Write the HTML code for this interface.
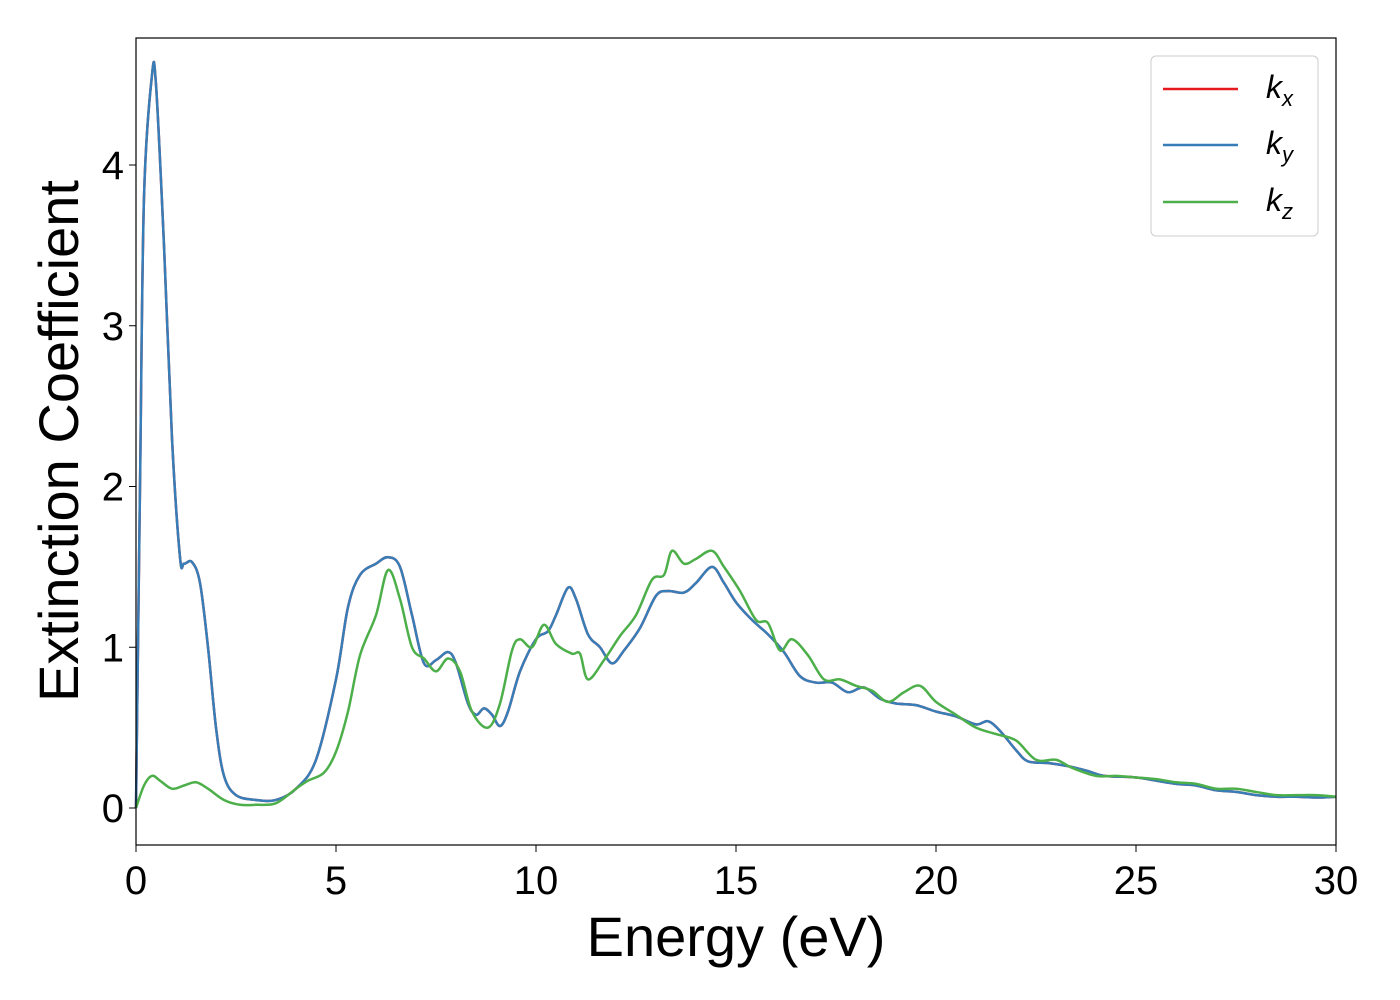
<!DOCTYPE html>
<html><head><meta charset="utf-8"><style>
html,body{margin:0;padding:0;background:#fff;}
svg{display:block;font-family:"Liberation Sans","DejaVu Sans",sans-serif;}
</style></head><body>
<svg id="chart" width="1400" height="1000">
<rect x="0" y="0" width="1400" height="1000" fill="#fff"/>
<g id="plot"></g>
<rect x="136" y="38" width="1200" height="807" fill="none" stroke="#000" stroke-width="1.2"/>
<g id="xticks"></g><g id="yticks"></g>
<text x="736" y="956" font-size="56" text-anchor="middle">Energy (eV)</text>
<text transform="translate(78,441) rotate(-90)" font-size="56" text-anchor="middle">Extinction Coefficient</text>
<g>
<rect x="1151" y="56" width="167" height="180" rx="5" fill="#fff" stroke="#ccc" stroke-width="1"/>
<line x1="1163" y1="89" x2="1238" y2="89" stroke="#e41a1c" stroke-width="2.5"/>
<text x="1266" y="98" font-size="32"><tspan font-style="italic">k</tspan><tspan font-size="22" font-style="italic" dy="8">x</tspan></text>
<line x1="1163" y1="145" x2="1238" y2="145" stroke="#377eb8" stroke-width="2.5"/>
<text x="1266" y="154" font-size="32"><tspan font-style="italic">k</tspan><tspan font-size="22" font-style="italic" dy="8">y</tspan></text>
<line x1="1163" y1="202" x2="1238" y2="202" stroke="#4daf4a" stroke-width="2.5"/>
<text x="1266" y="211" font-size="32"><tspan font-style="italic">k</tspan><tspan font-size="22" font-style="italic" dy="8">z</tspan></text>
</g>
</svg>
<script>
const xTicks=[0,5,10,15,20,25,30];
const yTicks=[0,1,2,3,4];
const energyXY=[0,0.1,0.2,0.4,0.5,0.7,0.9,1.1,1.2,1.4,1.6,1.8,2.0,2.2,2.5,3.0,3.5,4.0,4.5,5.0,5.3,5.6,6.0,6.3,6.6,6.9,7.2,7.5,7.8,8.0,8.3,8.5,8.7,8.9,9.1,9.3,9.6,10.0,10.3,10.5,10.8,11.0,11.3,11.6,11.9,12.2,12.6,13.0,13.3,13.7,14.0,14.4,14.7,15.0,15.4,15.8,16.2,16.6,17.0,17.4,17.8,18.2,18.6,19.0,19.5,20.0,20.5,21.0,21.3,21.6,22.0,22.3,22.8,23.3,23.8,24.2,25.0,25.5,26,26.5,27,27.5,28,28.5,29,29.5,30];
const kxValues=[0,2.0,3.8,4.56,4.5,3.5,2.3,1.56,1.52,1.53,1.4,1.0,0.5,0.2,0.08,0.05,0.05,0.12,0.3,0.8,1.25,1.45,1.52,1.56,1.5,1.2,0.9,0.92,0.97,0.9,0.65,0.58,0.62,0.58,0.51,0.6,0.85,1.05,1.1,1.2,1.37,1.3,1.08,1.0,0.9,0.98,1.12,1.32,1.35,1.34,1.4,1.5,1.4,1.28,1.17,1.08,0.97,0.82,0.78,0.78,0.72,0.75,0.68,0.65,0.64,0.6,0.57,0.52,0.54,0.48,0.36,0.29,0.28,0.26,0.23,0.2,0.19,0.17,0.15,0.14,0.11,0.1,0.08,0.07,0.07,0.065,0.07];
const kyValues=kxValues.slice();
const energyZ=[0,0.2,0.4,0.6,0.9,1.2,1.5,1.8,2.2,2.6,3.0,3.5,4.0,4.3,4.7,5.0,5.3,5.6,6.0,6.3,6.6,6.9,7.2,7.5,7.8,8.1,8.4,8.8,9.1,9.4,9.6,9.9,10.2,10.5,10.9,11.1,11.3,11.7,12.1,12.5,12.9,13.2,13.4,13.7,14.0,14.4,14.7,15.1,15.5,15.8,16.1,16.4,16.8,17.2,17.6,18.0,18.4,18.8,19.2,19.6,20.0,20.5,21.0,21.5,22.0,22.5,23.0,23.4,24.0,24.5,25,25.5,26,26.5,27,27.5,28,28.5,29,29.5,30];
const kzValues=[0,0.14,0.2,0.17,0.12,0.14,0.16,0.12,0.05,0.02,0.02,0.03,0.12,0.17,0.22,0.35,0.6,0.95,1.2,1.48,1.3,1.0,0.93,0.85,0.93,0.85,0.6,0.5,0.65,0.98,1.05,1.0,1.14,1.02,0.96,0.96,0.8,0.92,1.07,1.2,1.42,1.45,1.6,1.52,1.55,1.6,1.5,1.35,1.17,1.15,0.98,1.05,0.95,0.8,0.8,0.76,0.73,0.66,0.72,0.76,0.66,0.58,0.5,0.46,0.42,0.3,0.3,0.25,0.2,0.2,0.19,0.18,0.16,0.15,0.12,0.12,0.1,0.08,0.08,0.08,0.07];
const NS='http://www.w3.org/2000/svg';
function xs(e){return 136+40*e;}
function ys(v){return 808-160.75*v;}
function pathD(xa,va){
  const p=xa.map((e,i)=>[xs(e),ys(va[i])]);
  let d='M'+p[0][0]+','+p[0][1];
  for(let i=0;i<p.length-1;i++){
    const p0=p[Math.max(0,i-1)],p1=p[i],p2=p[i+1],p3=p[Math.min(p.length-1,i+2)];
    const c1x=p1[0]+(p2[0]-p0[0])/6,c1y=p1[1]+(p2[1]-p0[1])/6;
    const c2x=p2[0]-(p3[0]-p1[0])/6,c2y=p2[1]-(p3[1]-p1[1])/6;
    d+=' C'+c1x+','+c1y+' '+c2x+','+c2y+' '+p2[0]+','+p2[1];
  }
  return d;
}
const plot=document.getElementById('plot');
function addLine(xa,va,color,name){
  const el=document.createElementNS(NS,'path');
  el.setAttribute('d',pathD(xa,va));
  el.setAttribute('fill','none');
  el.setAttribute('stroke',color);
  el.setAttribute('stroke-width','2.5');
  
  
  plot.appendChild(el);
}
addLine(energyXY,kxValues,'#e41a1c','kx-line');
addLine(energyXY,kyValues,'#377eb8','ky-line');
addLine(energyZ,kzValues,'#4daf4a','kz-line');
const xg=document.getElementById('xticks');
xTicks.forEach(t=>{
  const l=document.createElementNS(NS,'line');
  l.setAttribute('x1',xs(t));l.setAttribute('x2',xs(t));l.setAttribute('y1',845);l.setAttribute('y2',852);
  l.setAttribute('stroke','#000');
  
  
  xg.appendChild(l);
  const tx=document.createElementNS(NS,'text');
  tx.setAttribute('x',xs(t));tx.setAttribute('y',894);tx.setAttribute('font-size','40');tx.setAttribute('text-anchor','middle');
  tx.textContent=t;
  
  
  xg.appendChild(tx);
});
const yg=document.getElementById('yticks');
yTicks.forEach(t=>{
  const l=document.createElementNS(NS,'line');
  l.setAttribute('x1',129);l.setAttribute('x2',136);l.setAttribute('y1',ys(t));l.setAttribute('y2',ys(t));
  l.setAttribute('stroke','#000');
  
  
  yg.appendChild(l);
  const tx=document.createElementNS(NS,'text');
  tx.setAttribute('x',124);tx.setAttribute('y',ys(t)+14);tx.setAttribute('font-size','40');tx.setAttribute('text-anchor','end');
  tx.textContent=t;
  
  
  yg.appendChild(tx);
});
</script>
</body></html>
